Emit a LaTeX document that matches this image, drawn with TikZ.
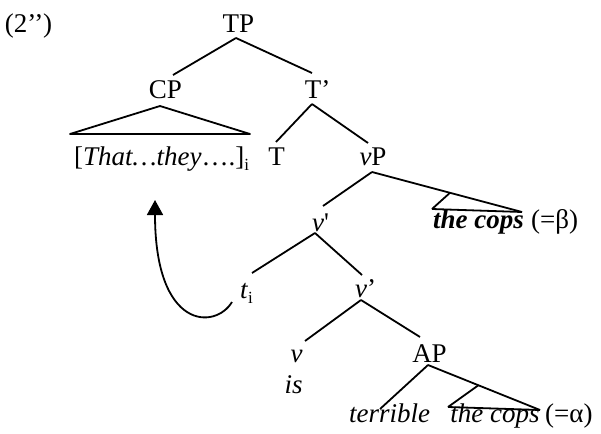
\documentclass[tikz,border=0pt]{standalone}
\usepackage{fontspec}
\setmainfont{Liberation Serif}
\usetikzlibrary{calc,arrows.meta}
\newcommand{\fsz}{\fontsize{27}{31}\selectfont}
\newcommand{\subi}{\raisebox{-5pt}{\fontsize{17}{17}\selectfont i}}
\begin{document}
\begin{tikzpicture}[x=1pt,y=-1pt,
  lab/.style={font=\fsz, inner sep=0pt, anchor=base},
  edge/.style={line width=1.8pt, line join=round}]
\useasboundingbox (0,0) rectangle (601,433);
% nodes
\node[lab] (ex) at (28.5,33) {(2’’)};
\node[lab] (TP) at (238.5,33) {TP};
\node[lab] (CP) at (165.5,99) {CP};
\node[lab] (Tb) at (317.5,99) {T’};
\node[lab] (br) at (161.5,165) {[\textit{That…they}….]\subi};
\node[lab] (T) at (276.5,165) {T};
\node[lab] (vP) at (373,165) {\textit{v}P};
\node[lab] (va) at (320.5,231) {\textit{v}\textquotesingle};
\node[lab] (dpa) at (478.5,228) {\textbf{\textit{the cops}}};
\node[lab, anchor=base west] (eqb) at (531,228) {(=β)};
\node[lab] (t) at (246.5,298) {\textit{t}\subi};
\node[lab] (vb) at (365.5,297) {\textit{v}’};
\node[lab] (v) at (296.5,362) {\textit{v}};
\node[lab] (is) at (293.5,393) {\textit{is}};
\node[lab] (AP) at (429.5,362) {AP};
\node[lab] (ter) at (389.5,422) {\textit{terrible}};
\node[lab] (dpb) at (495,422) {\textit{the cops}};
\node[lab, anchor=base west] (eqa) at (545,422) {(=α)};
% helper points
\coordinate (TPb) at ($(TP.base)+(-2.5,5)$);
\coordinate (Tbt) at ($(Tb.base)+(-5.5,5)$);
\coordinate (vPb) at ($(vP.base)+(-1,7)$);
\coordinate (vab) at ($(va.base)+(-5.5,2)$);
\coordinate (vbb) at ($(vb.base)+(-4.5,3)$);
\coordinate (APb) at ($(AP.base)+(-1.5,3)$);
\coordinate (dpaR) at ($(dpa.base)+(43.5,-16)$);
\coordinate (dpaL) at ($(dpa.base)+(-46.5,-19)$);
\coordinate (dpbR) at ($(dpb.base)+(45,-12)$);
\coordinate (dpbL) at ($(dpb.base)+(-47,-15)$);
% edges
\draw[edge] (TPb) -- ($(CP.base)+(7.5,-24)$);
\draw[edge] (TPb) -- ($(Tb.base)+(-5.5,-26)$);
\draw[edge] ($(CP.base)+(-95.5,35)$) -- ($(CP.base)+(-5.5,7)$) -- ($(CP.base)+(84.5,35)$) -- cycle;
\draw[edge] (Tbt) -- ($(T.base)+(-0.5,-23)$);
\draw[edge] (Tbt) -- ($(vP.base)+(-5,-22)$);
\draw[edge] (vPb) -- ($(va.base)+(2.5,-25)$);
\draw[edge] (vPb) -- (dpaR);
\draw[edge] (dpaL) -- ($(vPb)!0.52!(dpaR)$) (dpaL) -- (dpaR);
\draw[edge] (vab) -- ($(t.base)+(5.5,-25)$);
\draw[edge] (vab) -- ($(vb.base)+(-3.5,-22)$);
\draw[edge] (vbb) -- ($(v.base)+(8.5,-21)$);
\draw[edge] (vbb) -- ($(AP.base)+(-9.5,-25)$);
\draw[edge] (APb) -- ($(ter.base)+(-9.5,-13)$);
\draw[edge] (APb) -- (dpbR);
\draw[edge] (dpbL) -- ($(APb)!0.45!(dpbR)$) (dpbL) -- (dpbR);
% movement arrow
\draw[edge, -{Triangle[width=16pt,length=15pt]}] ($(t.base)+(-14.5,4)$)
  .. controls ($(t.base)+(-31.5,32)$) and ($(t.base)+(-91.5,32)$) .. ($(br.base)+(-6.5,35)$);
\end{tikzpicture}
\end{document}
